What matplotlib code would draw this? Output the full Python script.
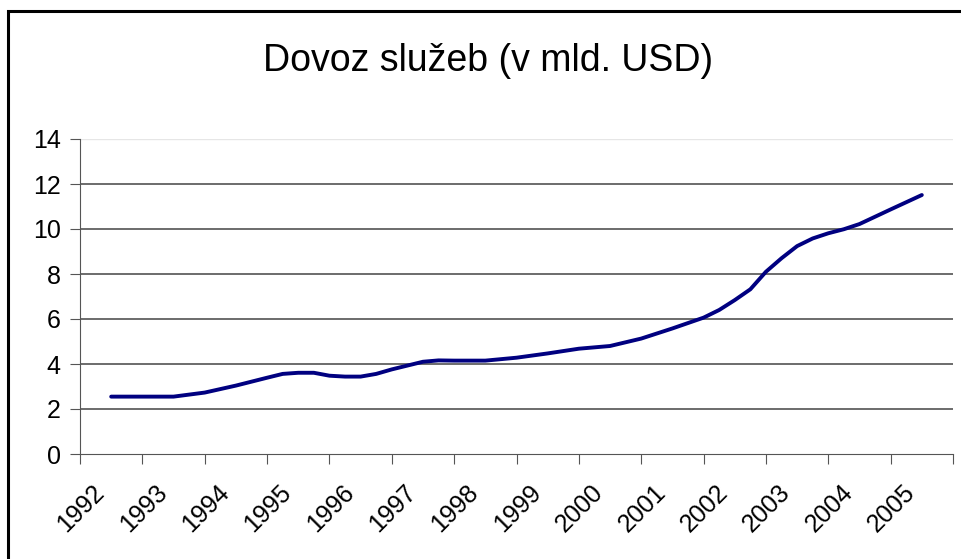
import matplotlib
matplotlib.use("Agg")
import matplotlib.pyplot as plt
from matplotlib.patches import Rectangle
from matplotlib.transforms import ScaledTranslation

plt.rcParams['font.family'] = ['Liberation Sans', 'DejaVu Sans']

# categories (years) and the line
years = [str(y) for y in range(1992, 2006)]
# x positions in category units (0 = left edge of 1992)
pos = [0.5, 1.0, 1.5, 2.0, 2.5, 3.0, 3.25, 3.5, 3.75, 4.0, 4.25, 4.5, 4.75,
       5.0, 5.5, 5.75, 6.0, 6.5, 7.0, 7.5, 8.0, 8.5, 9.0, 9.5, 10.0, 10.25,
       10.5, 10.75, 11.0, 11.25, 11.5, 11.75, 12.0, 12.25, 12.5, 13.0, 13.5]
dovoz = [2.55, 2.55, 2.55, 2.73, 3.04, 3.39, 3.56, 3.61, 3.61, 3.48, 3.44,
         3.44, 3.56, 3.76, 4.10, 4.16, 4.15, 4.15, 4.28, 4.47, 4.68, 4.80,
         5.13, 5.58, 6.06, 6.40, 6.84, 7.32, 8.10, 8.70, 9.24, 9.58, 9.81,
         9.99, 10.22, 10.87, 11.51]
yticks = [0, 2, 4, 6, 8, 10, 12, 14]

W, H = 961, 559
fig = plt.figure(figsize=(W / 100, H / 100), dpi=100)

# outer frame of the chart area (runs off the right/bottom edge)
fig.patches.append(Rectangle((8 / W, -0.05), 1.0, (H - 11) / H + 0.05,
                             transform=fig.transFigure, fill=False,
                             edgecolor='black', linewidth=2.2))

ax = fig.add_axes([80 / W, (H - 454) / H, (953 - 80) / W, (454 - 139) / H])
ax.plot(pos, dovoz, color='#000080', linewidth=2.8,
        solid_joinstyle='round', solid_capstyle='round')

ax.set_xlim(0, len(years))
ax.set_ylim(0, 14)
ax.set_yticks(yticks)
ax.set_yticklabels([str(v) for v in yticks], fontsize=18)
ax.set_xticks(range(len(years) + 1))
ax.set_xticklabels([])
ax.set_xticks([i + 0.5 for i in range(len(years))], minor=True)
ax.set_xticklabels(years, minor=True, rotation=45, ha='right',
                   rotation_mode='anchor', fontsize=18)
ax.tick_params(axis='x', which='minor', length=0, pad=19)
ax.tick_params(axis='x', which='major', length=7, color='#555555', direction='out')
ax.tick_params(axis='y', length=7, color='#555555', direction='out', pad=7)

shift = ScaledTranslation(-19 / 100, 0, fig.dpi_scale_trans)
for lab in ax.get_xticklabels(minor=True):
    lab.set_transform(lab.get_transform() + shift)

for v in yticks[1:-1]:
    ax.axhline(v, color='#444444', linewidth=1.1, zorder=0)
ax.axhline(14, color='#e6e6e6', linewidth=1.0, zorder=0)

for s in ['top', 'right']:
    ax.spines[s].set_visible(False)
ax.spines['left'].set_color('#555555')
ax.spines['bottom'].set_color('#555555')

fig.text(488 / W, 1 - 61 / H, 'Dovoz služeb (v mld. USD)', fontsize=27,
         ha='center', va='center')

fig.savefig('out.png', dpi=100)
